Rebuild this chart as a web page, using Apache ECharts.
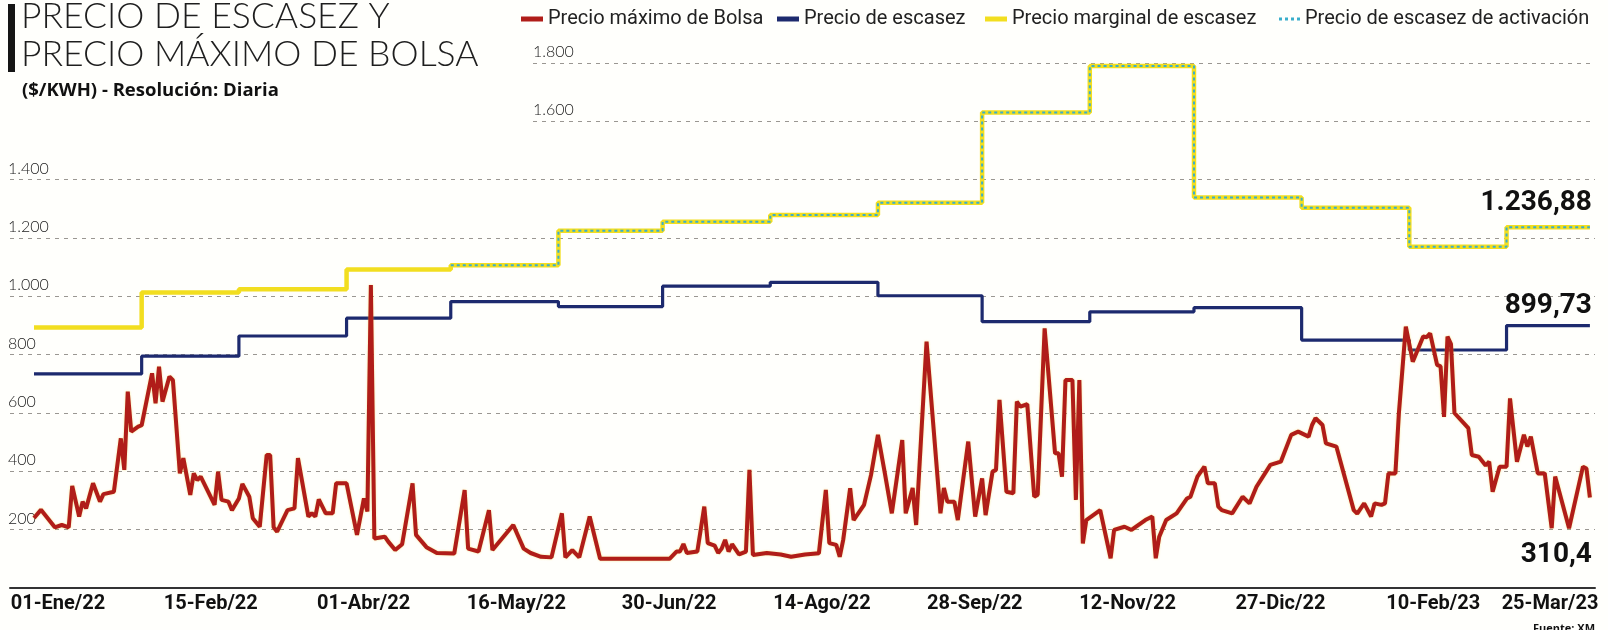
<!DOCTYPE html>
<html>
<head>
<meta charset="utf-8">
<script src="https://cdn.jsdelivr.net/npm/echarts@6/dist/echarts.min.js"></script>
<style>
html,body{margin:0;padding:0;background:#fffffc;}
#chart{width:1608px;height:630px;}
</style>
</head>
<body>
<div id="chart"></div>
<script>
// ---------- DATA ----------
// Monthly values (each valid from the first day of the month)
const monthStarts = ['2022-01-01','2022-02-01','2022-03-01','2022-04-01','2022-05-01','2022-06-01',
  '2022-07-01','2022-08-01','2022-09-01','2022-10-01','2022-11-01','2022-12-01',
  '2023-01-01','2023-02-01','2023-03-01'];
const lastDate = '2023-03-25';
const precioEscasez     = [734, 795, 864, 925, 982, 965, 1035, 1048, 1002, 913, 947, 961, 850, 816, 899.73];
const precioMarginal    = [893, 1013, 1024, 1092, 1107, 1225, 1256, 1279, 1321, 1630, 1790, 1339, 1304, 1170, 1236.88];
const precioActivacion  = [null, null, null, null, 1107, 1225, 1256, 1279, 1321, 1630, 1790, 1339, 1304, 1170, 1236.88];

// Precio máximo de bolsa: [días desde 01-Ene-2022, $/kWh]
const precioBolsa = [
 [0,240],[2,268],[6,208],[8,216],[10,208],[11,350],[13,245],[14,296],[15,273],[17,359],[19,296],[20,322],
 [23,330],[25,513],[26,405],[27,673],[28,536],[30,553],[31,558],[34,736],[35,633],[36,759],[37,639],[39,725],
 [40,713],[42,393],[43,445],[45,319],[46,393],[47,370],[48,382],[52,285],[53,399],[54,302],[56,296],[57,267],
 [59,307],[60,357],[62,313],[63,239],[65,210],[67,456],[68,456],[69,208],[70,193],[73,267],[75,273],[76,445],
 [79,245],[80,256],[81,245],[82,304],[84,256],[86,256],[87,359],[90,359],[93,182],[95,307],[96,262],[97,1039],
 [98,170],[101,176],[102,159],[104,130],[106,150],[109,359],[110,182],[113,140],[116,120],[121,118],[124,336],
 [125,135],[128,125],[131,267],[132,130],[138,216],[141,135],[143,120],[146,107],[149,105],[152,256],[153,105],
 [155,130],[157,105],[160,245],[163,100],[183,100],[185,125],[186,125],[187,151],[188,120],[191,125],[193,279],
 [194,154],[196,145],[197,120],[198,135],[199,165],[200,125],[201,150],[203,115],[205,125],[206,405],[207,113],
 [211,120],[215,115],[218,107],[222,115],[226,119],[228,336],[229,154],[231,148],[232,107],[233,165],[235,342],
 [236,233],[239,285],[241,387],[243,525],[245,393],[247,256],[250,507],[251,256],[253,343],[254,216],[257,845],
 [261,256],[262,343],[263,296],[265,296],[266,233],[269,502],[271,245],[273,376],[274,250],[276,399],[277,405],
 [278,645],[280,330],[282,325],[283,639],[284,622],[286,630],[288,313],[289,320],[291,890],[294,462],[295,462],
 [296,382],[297,713],[299,713],[300,302],[301,713],[302,153],[303,233],[307,267],[310,102],[311,199],[314,210],
 [316,199],[320,233],[322,245],[323,102],[324,176],[326,233],[329,256],[332,307],[333,313],[335,382],[337,416],
 [338,359],[340,359],[341,279],[342,267],[345,256],[348,313],[350,290],[352,347],[356,422],[359,433],[362,525],
 [364,536],[367,519],[368,559],[369,582],[371,559],[372,496],[375,485],[380,267],[381,255],[383,290],[385,245],
 [386,290],[388,285],[389,290],[390,393],[392,393],[393,599],[395,896],[397,776],[400,862],[401,860],[402,873],
 [404,765],[405,760],[406,587],[407,862],[408,836],[409,600],[413,548],[414,456],[416,450],[418,420],[419,433],
 [420,330],[422,416],[424,416],[425,650],[427,433],[429,525],[430,485],[431,519],[433,393],[435,393],[437,205],
 [438,382],[442,205],[446,416],[447,410],[448,310.4]
];

const xLabels = ['01-Ene/22','15-Feb/22','01-Abr/22','16-May/22','30-Jun/22','14-Ago/22',
  '28-Sep/22','12-Nov/22','27-Dic/22','10-Feb/23','25-Mar/23'];

// ---------- HELPERS ----------
const DAY = 86400000;
function parseDate(s){ const p = s.split('-').map(Number); return new Date(p[0], p[1]-1, p[2]).getTime(); }
const T0 = parseDate('2022-01-01');
function fmtEs(v){
  const parts = String(v).split('.');
  const intPart = parts[0].replace(/\B(?=(\d{3})+(?!\d))/g, '.');
  return parts.length > 1 ? intPart + ',' + parts[1] : intPart;
}
function stepData(values){
  const d = monthStarts.map((s, i) => [parseDate(s), values[i]]);
  d.push([parseDate(lastDate), values[values.length - 1]]);
  return d;
}
const bolsaData = precioBolsa.map(p => [T0 + p[0]*DAY, p[1]]);

// value tag at the last point of a series
function endTag(point, offset){
  return {
    silent: true, symbol: 'circle', symbolSize: 1,
    itemStyle: { color: 'rgba(0,0,0,0)' },
    label: { show: true, position: 'top', distance: 0, align: 'right', verticalAlign: 'middle',
      offset: offset, fontFamily: 'Roboto', fontWeight: 'bold', fontSize: 28, color: '#111',
      formatter: p => fmtEs(p.value) },
    data: [{ coord: point, value: point[1] }]
  };
}

const hidden = 'rgba(0,0,0,0)';
const gridCol = '#9a9792';
const mainLineColors = [hidden, gridCol, gridCol, gridCol, gridCol, gridCol, gridCol, gridCol, hidden, hidden];
const topLineColors  = [hidden, hidden, hidden, hidden, hidden, hidden, hidden, hidden, gridCol, gridCol];

const yLabelStyle = { fontFamily: 'Lato', fontWeight: 300, fontSize: 16, color: '#222', lineHeight: 16 };
const legendCommon = {
  top: 8, padding: 0, itemGap: 0, itemWidth: 22, itemHeight: 5, selectedMode: false, icon: 'rect',
  textStyle: { fontFamily: 'Roboto', fontSize: 20, color: '#222', lineHeight: 22 }
};

const chart = echarts.init(document.getElementById('chart'), null, { renderer: 'canvas' });
chart.setOption({
  backgroundColor: '#fffffc',
  animation: false,
  title: [
    { text: 'PRECIO DE ESCASEZ Y\nPRECIO MÁXIMO DE BOLSA', left: 21, top: -2, padding: 0,
      textStyle: { fontFamily: 'Lato', fontWeight: 300, fontSize: 35.5, lineHeight: 38, color: '#1e1e1e' } },
    { text: '($/KWH) - Resolución: Diaria', left: 22, top: 81, padding: 0,
      textStyle: { fontFamily: 'Open Sans', fontWeight: 'bold', fontSize: 18.5, color: '#111' } },
    { text: 'Fuente: XM', right: 13, top: 623, padding: 0,
      textStyle: { fontFamily: 'Open Sans', fontWeight: 'bold', fontSize: 11, color: '#111' } }
  ],
  graphic: [
    { type: 'rect', left: 8, top: 4, shape: { width: 7, height: 68 }, style: { fill: '#151515' } }
  ],
  legend: [
    Object.assign({}, legendCommon, { left: 521, data: [{ name: 'Precio máximo de Bolsa' }] }),
    Object.assign({}, legendCommon, { left: 777, data: [{ name: 'Precio de escasez' }] }),
    Object.assign({}, legendCommon, { left: 985, data: [{ name: 'Precio marginal de escasez' }] }),
    Object.assign({}, legendCommon, { left: 1279, itemWidth: 21, itemHeight: 3,
      icon: 'path://M0,0h3v3h-3z M6,0h3v3h-3z M12,0h3v3h-3z M18,0h3v3h-3z',
      data: [{ name: 'Precio de escasez de activación' }] })
  ],
  grid: [
    { left: 10, right: 13, top: 63, bottom: 42, outerBoundsMode: 'none' },
    { left: 533, right: 15, top: 63, bottom: 42, outerBoundsMode: 'none' },
    { left: 58, right: 22, top: 63, bottom: 42, outerBoundsMode: 'none' }
  ],
  xAxis: [
    { type: 'time', gridIndex: 0, min: T0 - 6.91*DAY, max: T0 + 449.47*DAY,
      axisLine: { show: true, lineStyle: { color: '#333', width: 2 } },
      axisTick: { show: false }, axisLabel: { show: false }, splitLine: { show: false } },
    { type: 'value', gridIndex: 1, min: 0, max: 1, show: false },
    { type: 'category', gridIndex: 2, data: xLabels, boundaryGap: false,
      axisLine: { show: false }, axisTick: { show: false }, splitLine: { show: false },
      axisLabel: { interval: 0, margin: 6, fontFamily: 'Roboto', fontWeight: 'bold', fontSize: 20, color: '#111',
        formatter: (v, i) => i === xLabels.length - 1 ? '{last|' + v + '}' : v,
        rich: { last: { padding: [0, 72, 0, 0], fontFamily: 'Roboto', fontWeight: 'bold', fontSize: 20, color: '#111' } } } }
  ],
  yAxis: [
    { type: 'value', gridIndex: 0, min: 0, max: 1800, interval: 200,
      axisLine: { show: false }, axisTick: { show: false },
      splitLine: { show: true, lineStyle: { color: mainLineColors, width: 1, type: [4, 5] } },
      axisLabel: Object.assign({ inside: true, margin: -2, verticalAlign: 'bottom', padding: [0, 0, 3, 0],
        formatter: v => (v >= 200 && v <= 1400) ? fmtEs(v) : '' }, yLabelStyle) },
    { type: 'value', gridIndex: 1, min: 0, max: 1800, interval: 200,
      axisLine: { show: false }, axisTick: { show: false },
      splitLine: { show: true, lineStyle: { color: topLineColors, width: 1, type: [4, 5] } },
      axisLabel: Object.assign({ inside: true, margin: 0, verticalAlign: 'bottom', padding: [0, 0, 3, 0],
        formatter: v => (v >= 1600) ? fmtEs(v) : '' }, yLabelStyle) },
    { type: 'value', gridIndex: 2, min: 0, max: 1800, show: false }
  ],
  series: [
    { name: 'Precio marginal de escasez', type: 'line', step: 'end', xAxisIndex: 0, yAxisIndex: 0,
      symbol: 'none', z: 2, color: '#f2de1f',
      lineStyle: { color: '#f2de1f', width: 4.5 },
      data: stepData(precioMarginal),
      markPoint: endTag([parseDate(lastDate), precioMarginal[precioMarginal.length - 1]], [2, -24]) },
    { name: 'Precio de escasez de activación', type: 'line', step: 'end', xAxisIndex: 0, yAxisIndex: 0,
      symbol: 'none', z: 3, color: '#3aaecb',
      lineStyle: { color: '#3aaecb', width: 2, type: [3, 3] },
      data: stepData(precioActivacion) },
    { name: 'Precio de escasez', type: 'line', step: 'end', xAxisIndex: 0, yAxisIndex: 0,
      symbol: 'none', z: 3, color: '#1d2a6e',
      lineStyle: { color: '#1d2a6e', width: 3.2 },
      data: stepData(precioEscasez),
      markPoint: endTag([parseDate(lastDate), precioEscasez[precioEscasez.length - 1]], [2, -19]) },
    { name: 'Precio máximo de Bolsa', type: 'line', xAxisIndex: 0, yAxisIndex: 0,
      symbol: 'none', z: 4, color: '#b01d19',
      lineStyle: { color: '#b01d19', width: 4, shadowColor: 'rgba(235,205,40,0.55)', shadowBlur: 2 },
      data: bolsaData,
      markPoint: endTag(bolsaData[bolsaData.length - 1], [2, 58]) }
  ]
});
</script>
</body>
</html>
